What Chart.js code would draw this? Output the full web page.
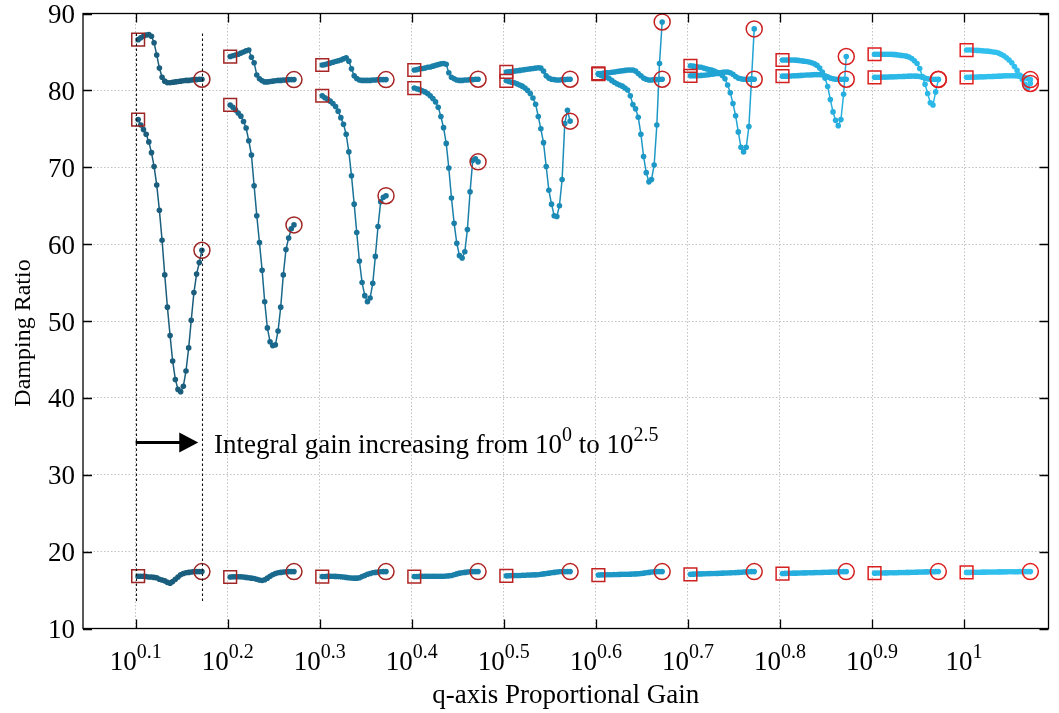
<!DOCTYPE html>
<html>
<head>
<meta charset="utf-8">
<script src="https://cdn.jsdelivr.net/npm/chart.js@4.4.1/dist/chart.umd.min.js"></script>
<style>
  html, body { margin: 0; padding: 0; background: #fff; }
  #wrap { width: 1059px; height: 713px; }
</style>
</head>
<body>
<div id="wrap"><canvas id="chart"></canvas></div>
<script>
// proportional gain groups (log10 of Kp) and their tick exponents
const GAINS = [0.1, 0.2, 0.3, 0.4, 0.5, 0.6, 0.7, 0.8, 0.9, 1.0];
const GAIN_EXP = ["0.1", "0.2", "0.3", "0.4", "0.5", "0.6", "0.7", "0.8", "0.9", "1"];
const Y_TICKS = [10, 20, 30, 40, 50, 60, 70, 80, 90];

// x position of each integral-gain sample inside a group (log units)
const OFFSETS = [0.0027, 0.0056, 0.0085, 0.0114, 0.0143, 0.0172, 0.0200, 0.0229, 0.0258, 0.0287,
  0.0316, 0.0345, 0.0374, 0.0402, 0.0431, 0.0460, 0.0489, 0.0518, 0.0547, 0.0576,
  0.0604, 0.0633, 0.0662, 0.0691, 0.0720];

// upper mode (small bump)
const TOP = [
  [86.6, 86.85, 87.05, 87.2, 87.25, 87.05, 86.2, 84.6, 82.9, 81.7, 81.2, 81.0, 81.0, 81.05, 81.1, 81.15, 81.2, 81.25, 81.3, 81.3, 81.35, 81.4, 81.4, 81.45, 81.45],
  [84.4, 84.5, 84.6, 84.7, 84.85, 85.0, 85.15, 85.25, 84.3, 83.6, 82.0, 81.5, 81.25, 81.1, 81.1, 81.15, 81.2, 81.25, 81.3, 81.3, 81.35, 81.35, 81.4, 81.4, 81.4],
  [83.3, 83.35, 83.45, 83.55, 83.65, 83.75, 83.85, 83.95, 84.1, 84.25, 83.8, 82.8, 81.9, 81.55, 81.35, 81.3, 81.3, 81.3, 81.3, 81.35, 81.35, 81.4, 81.4, 81.4, 81.4],
  [82.65, 82.7, 82.8, 82.85, 82.9, 83.0, 83.05, 83.15, 83.25, 83.35, 83.45, 83.5, 83.4, 82.3, 81.7, 81.5, 81.35, 81.3, 81.3, 81.35, 81.35, 81.4, 81.4, 81.45, 81.45],
  [82.4, 82.42, 82.45, 82.5, 82.55, 82.6, 82.65, 82.7, 82.75, 82.8, 82.85, 82.9, 82.95, 82.9, 82.5, 81.9, 81.6, 81.45, 81.4, 81.35, 81.35, 81.4, 81.4, 81.45, 81.45],
  [82.2, 82.2, 82.25, 82.3, 82.3, 82.35, 82.4, 82.45, 82.5, 82.55, 82.6, 82.65, 82.65, 82.65, 82.5, 82.2, 81.9, 81.6, 81.45, 81.35, 81.35, 81.4, 81.4, 81.45, 81.45],
  [81.9, 81.9, 81.9, 81.92, 81.95, 81.97, 82.0, 82.05, 82.1, 82.15, 82.2, 82.3, 82.35, 82.4, 82.4, 82.3, 82.1, 81.8, 81.6, 81.5, 81.45, 81.45, 81.45, 81.45, 81.45],
  [81.85, 81.85, 81.85, 81.87, 81.9, 81.9, 81.92, 81.95, 81.97, 82.0, 82.0, 82.02, 82.05, 82.05, 82.05, 82.0, 81.9, 81.75, 81.6, 81.5, 81.45, 81.45, 81.45, 81.45, 81.45],
  [81.7, 81.7, 81.7, 81.72, 81.72, 81.74, 81.75, 81.76, 81.78, 81.8, 81.8, 81.82, 81.84, 81.85, 81.86, 81.86, 81.85, 81.8, 81.7, 81.6, 81.5, 81.45, 81.45, 81.45, 81.45],
  [81.7, 81.7, 81.72, 81.72, 81.74, 81.75, 81.76, 81.78, 81.8, 81.8, 81.82, 81.84, 81.85, 81.86, 81.88, 81.9, 81.9, 81.9, 81.9, 81.88, 81.85, 81.8, 81.65, 81.5, 81.4]
];

// middle mode (deep dip)
const MID = [
  [76.2, 75.5, 74.9, 74.3, 73.3, 71.9, 70.1, 67.7, 64.4, 60.5, 56.0, 51.8, 48.1, 44.8, 42.4, 41.1, 40.8, 41.5, 43.5, 46.5, 50.1, 53.7, 56.1, 57.6, 59.2],
  [78.1, 77.8, 77.45, 77.05, 76.65, 75.95, 75.1, 73.45, 71.6, 67.6, 63.7, 60.2, 56.6, 52.5, 49.1, 47.3, 46.8, 46.9, 48.7, 51.8, 56.0, 59.3, 60.8, 62.0, 62.5],
  [79.3, 79.05, 78.85, 78.6, 78.3, 77.9, 77.3, 76.45, 75.6, 74.3, 72.0, 68.9, 65.2, 61.5, 57.8, 55.0, 53.3, 52.5, 53.0, 54.9, 58.4, 62.3, 65.5, 66.1, 66.3],
  [80.3, 80.2, 80.1, 79.95, 79.8, 79.6, 79.3, 78.95, 78.5, 77.8, 76.6, 75.15, 73.1, 69.9, 66.0, 62.7, 60.1, 58.5, 58.2, 59.0, 61.9, 66.8, 70.9, 71.1, 70.7],
  [81.25, 81.15, 81.05, 81.0, 80.85, 80.7, 80.55, 80.3, 80.0, 79.6, 79.0, 78.2, 76.6, 75.0, 73.2, 70.1, 67.0, 65.2, 63.7, 63.6, 65.0, 68.4, 75.7, 77.4, 76.0],
  [82.1, 81.95, 81.8, 81.7, 81.55, 81.3, 81.05, 80.85, 80.7, 80.55, 80.3, 80.05, 79.3, 78.15, 77.6, 76.5, 74.3, 71.4, 69.3, 68.1, 68.4, 70.3, 75.5, 83.5, 88.9],
  [83.2, 83.15, 83.1, 83.05, 83.0, 82.9, 82.8, 82.7, 82.65, 82.5, 82.35, 82.2, 81.95, 81.5, 80.7, 79.7, 78.3, 76.7, 74.6, 72.6, 72.0, 72.6, 75.3, 81.5, 88.0],
  [83.95, 83.95, 83.95, 83.95, 83.95, 83.93, 83.9, 83.85, 83.8, 83.75, 83.7, 83.6, 83.45, 83.25, 82.9, 82.4, 81.6, 80.5, 78.8, 77.2, 76.1, 75.4, 76.2, 79.5, 84.4],
  [84.7, 84.7, 84.7, 84.7, 84.7, 84.7, 84.7, 84.68, 84.65, 84.6, 84.55, 84.5, 84.45, 84.35, 84.15, 83.85, 83.5, 82.85, 81.8, 80.8, 79.6, 78.4, 78.1, 79.8, 81.4],
  [85.25, 85.25, 85.25, 85.22, 85.2, 85.18, 85.15, 85.12, 85.1, 85.05, 85.0, 84.95, 84.85, 84.7, 84.5, 84.25, 83.95, 83.6, 83.1, 82.6, 82.0, 81.4, 80.8, 80.3, 80.9]
];

// lower mode (~17)
const BOT = [
  [16.8, 16.8, 16.8, 16.75, 16.7, 16.7, 16.65, 16.6, 16.4, 16.3, 16.2, 16.0, 15.9, 16.1, 16.4, 16.7, 17.0, 17.15, 17.25, 17.3, 17.35, 17.4, 17.4, 17.4, 17.4],
  [16.7, 16.72, 16.74, 16.74, 16.72, 16.7, 16.65, 16.6, 16.55, 16.5, 16.4, 16.3, 16.25, 16.35, 16.55, 16.8, 17.0, 17.15, 17.25, 17.3, 17.35, 17.38, 17.4, 17.4, 17.4],
  [16.75, 16.77, 16.8, 16.8, 16.8, 16.78, 16.75, 16.72, 16.7, 16.65, 16.6, 16.57, 16.55, 16.55, 16.6, 16.75, 16.9, 17.05, 17.15, 17.25, 17.3, 17.35, 17.38, 17.4, 17.4],
  [16.75, 16.77, 16.78, 16.8, 16.8, 16.8, 16.8, 16.8, 16.8, 16.8, 16.8, 16.8, 16.82, 16.85, 16.9, 17.0, 17.1, 17.2, 17.25, 17.3, 17.35, 17.38, 17.4, 17.4, 17.4],
  [16.85, 16.87, 16.88, 16.9, 16.9, 16.9, 16.92, 16.93, 16.95, 16.95, 16.97, 16.98, 17.0, 17.05, 17.1, 17.15, 17.2, 17.25, 17.3, 17.35, 17.38, 17.4, 17.4, 17.4, 17.4],
  [16.95, 16.97, 16.98, 17.0, 17.0, 17.0, 17.02, 17.03, 17.04, 17.05, 17.05, 17.06, 17.07, 17.08, 17.1, 17.12, 17.15, 17.2, 17.25, 17.3, 17.35, 17.38, 17.4, 17.4, 17.4],
  [17.05, 17.07, 17.08, 17.1, 17.1, 17.12, 17.13, 17.14, 17.15, 17.16, 17.17, 17.18, 17.2, 17.21, 17.22, 17.24, 17.25, 17.27, 17.3, 17.32, 17.35, 17.37, 17.38, 17.4, 17.4],
  [17.15, 17.17, 17.18, 17.19, 17.2, 17.2, 17.21, 17.22, 17.23, 17.24, 17.25, 17.26, 17.27, 17.28, 17.29, 17.3, 17.31, 17.32, 17.33, 17.34, 17.35, 17.37, 17.38, 17.4, 17.4],
  [17.2, 17.21, 17.22, 17.22, 17.23, 17.24, 17.25, 17.26, 17.26, 17.27, 17.28, 17.29, 17.3, 17.3, 17.31, 17.32, 17.33, 17.34, 17.35, 17.36, 17.37, 17.38, 17.39, 17.4, 17.4],
  [17.3, 17.3, 17.31, 17.31, 17.32, 17.32, 17.33, 17.33, 17.34, 17.34, 17.35, 17.35, 17.36, 17.36, 17.37, 17.37, 17.38, 17.38, 17.39, 17.39, 17.4, 17.4, 17.4, 17.4, 17.4]
];

const LINE_COLORS = ["#1a5d7c", "#1a688b", "#1a749a", "#1a80a9", "#1b8cb8",
  "#1d98c6", "#21a4d3", "#26aedf", "#2bb8e7", "#31c0ee"];
const MARK_COLORS = ["#9a2626", "#a02626", "#a82525", "#b02424", "#b92323",
  "#c22222", "#cb2121", "#d42020", "#dc1f1f", "#e21e1e"];

// annotation: guide lines and arrow (data coordinates)
const GUIDE_X = [0.1, 0.172];
const GUIDE_Y = [87.4, 13.35];
const ARROW = { x0: 0.1, x1: 0.168, y: 34.2 };
const NOTE_X = 0.1852;

const SERIF = '"Liberation Serif", "Times New Roman", serif';
const font = (size) => size + "px " + SERIF;

const datasets = [];
const starts = [];
const ends = [];
const markColors = [];

GAINS.forEach((g, k) => {
  [TOP[k], MID[k], BOT[k]].forEach((vals) => {
    const pts = vals.map((v, i) => ({ x: g + OFFSETS[i], y: v }));
    datasets.push({
      data: pts,
      showLine: true,
      borderColor: LINE_COLORS[k],
      backgroundColor: LINE_COLORS[k],
      borderWidth: 1.5,
      pointRadius: 2.8,
      pointBorderWidth: 0,
      pointBackgroundColor: LINE_COLORS[k],
      order: 2
    });
    starts.push(pts[0]);
    ends.push(pts[pts.length - 1]);
    markColors.push(MARK_COLORS[k]);
  });
});

datasets.push({
  data: starts,
  showLine: false,
  pointStyle: "rect",
  pointRadius: 9,
  pointBorderWidth: 1.5,
  pointBorderColor: markColors,
  pointBackgroundColor: "rgba(0,0,0,0)",
  order: 0
});
datasets.push({
  data: ends,
  showLine: false,
  pointStyle: "circle",
  pointRadius: 8,
  pointBorderWidth: 1.5,
  pointBorderColor: markColors,
  pointBackgroundColor: "rgba(0,0,0,0)",
  order: 0
});

// draws a base with an exponent; returns total width
const drawPower = (ctx, base, exp, x, y, size, supSize, lift, align) => {
  ctx.font = font(size);
  const wb = ctx.measureText(base).width;
  ctx.font = font(supSize);
  const we = ctx.measureText(exp).width;
  let left = x;
  if (align === "center") left = x - (wb + we) / 2;
  ctx.textAlign = "left";
  ctx.textBaseline = "alphabetic";
  ctx.font = font(size);
  ctx.fillText(base, left, y);
  ctx.font = font(supSize);
  ctx.fillText(exp, left + wb, y - lift);
  return wb + we;
};

const frame = {
  id: "frame",
  afterDatasetsDraw(chart) {
    const ctx = chart.ctx;
    const a = chart.chartArea;
    const xs = chart.scales.x;
    const ys = chart.scales.y;
    ctx.save();

    // dashed guides
    ctx.strokeStyle = "#111";
    ctx.lineWidth = 1.1;
    ctx.setLineDash([2.5, 2.5]);
    GUIDE_X.forEach((gx) => {
      const px = Math.round(xs.getPixelForValue(gx)) + 0.5;
      ctx.beginPath();
      ctx.moveTo(px, ys.getPixelForValue(GUIDE_Y[0]));
      ctx.lineTo(px, ys.getPixelForValue(GUIDE_Y[1]));
      ctx.stroke();
    });
    ctx.setLineDash([]);

    // arrow
    const ax0 = xs.getPixelForValue(ARROW.x0);
    const ax1 = xs.getPixelForValue(ARROW.x1);
    const ay = ys.getPixelForValue(ARROW.y);
    ctx.strokeStyle = "#000";
    ctx.fillStyle = "#000";
    ctx.lineWidth = 3;
    ctx.beginPath();
    ctx.moveTo(ax0, ay);
    ctx.lineTo(ax1 - 18, ay);
    ctx.stroke();
    ctx.beginPath();
    ctx.moveTo(ax1, ay);
    ctx.lineTo(ax1 - 19, ay - 10);
    ctx.lineTo(ax1 - 19, ay + 10);
    ctx.closePath();
    ctx.fill();

    // note text
    let nx = xs.getPixelForValue(NOTE_X);
    const ny = ay + 10.5;
    ctx.font = font(27);
    ctx.textAlign = "left";
    ctx.textBaseline = "alphabetic";
    const t1 = "Integral gain increasing from ";
    ctx.fillText(t1, nx, ny);
    nx += ctx.measureText(t1).width;
    nx += drawPower(ctx, "10", "0", nx, ny, 27, 20, 12, "left");
    ctx.font = font(27);
    const t2 = " to ";
    ctx.fillText(t2, nx, ny);
    nx += ctx.measureText(t2).width;
    drawPower(ctx, "10", "2.5", nx, ny, 27, 20, 12, "left");

    // box
    ctx.strokeStyle = "#000";
    ctx.lineWidth = 1.3;
    ctx.strokeRect(a.left, a.top, a.right - a.left, a.bottom - a.top);

    // inward ticks
    const tl = 9;
    ctx.beginPath();
    GAINS.forEach((g) => {
      const px = Math.round(xs.getPixelForValue(g)) + 0.5;
      ctx.moveTo(px, a.bottom);
      ctx.lineTo(px, a.bottom - tl);
      ctx.moveTo(px, a.top);
      ctx.lineTo(px, a.top + tl);
    });
    Y_TICKS.forEach((v) => {
      const py = Math.round(ys.getPixelForValue(v)) + 0.5;
      ctx.moveTo(a.left, py);
      ctx.lineTo(a.left + tl, py);
      ctx.moveTo(a.right, py);
      ctx.lineTo(a.right - tl, py);
    });
    ctx.stroke();

    // y tick labels
    ctx.fillStyle = "#000";
    ctx.font = font(27);
    ctx.textAlign = "right";
    ctx.textBaseline = "alphabetic";
    Y_TICKS.forEach((v) => {
      ctx.fillText(String(v), a.left - 8, ys.getPixelForValue(v) + 9.5);
    });

    // x tick labels 10^e
    GAINS.forEach((g, i) => {
      drawPower(ctx, "10", GAIN_EXP[i], xs.getPixelForValue(g), a.bottom + 41.5, 27, 20, 12, "center");
    });

    // axis titles
    ctx.font = font(27);
    ctx.textAlign = "center";
    ctx.textBaseline = "alphabetic";
    ctx.fillText("q-axis Proportional Gain", (a.left + a.right) / 2, 703);
    ctx.save();
    ctx.translate(30, 333);
    ctx.rotate(-Math.PI / 2);
    ctx.font = font(24);
    ctx.fillText("Damping Ratio", 0, 0);
    ctx.restore();

    ctx.restore();
  }
};

new Chart(document.getElementById("chart"), {
  type: "scatter",
  data: { datasets },
  options: {
    responsive: true,
    maintainAspectRatio: false,
    animation: false,
    events: [],
    layout: { padding: { top: 13.5, right: 4, bottom: 0, left: 0 } },
    plugins: { legend: { display: false }, tooltip: { enabled: false } },
    scales: {
      x: {
        type: "linear",
        min: 0.0428,
        max: 1.0917,
        afterBuildTicks: (s) => { s.ticks = GAINS.map((v) => ({ value: v })); },
        afterFit: (s) => { s.height = 84.5; },
        ticks: { display: false },
        grid: { color: "#c2c2c2", lineWidth: 1, drawTicks: false },
        border: { display: false, dash: [1.5, 2] }
      },
      y: {
        type: "linear",
        min: 10,
        max: 90,
        afterBuildTicks: (s) => { s.ticks = Y_TICKS.map((v) => ({ value: v })); },
        afterFit: (s) => { s.width = 83; },
        ticks: { display: false },
        grid: { color: "#c2c2c2", lineWidth: 1, drawTicks: false },
        border: { display: false, dash: [1.5, 2] }
      }
    }
  },
  plugins: [frame]
});
</script>
</body>
</html>
